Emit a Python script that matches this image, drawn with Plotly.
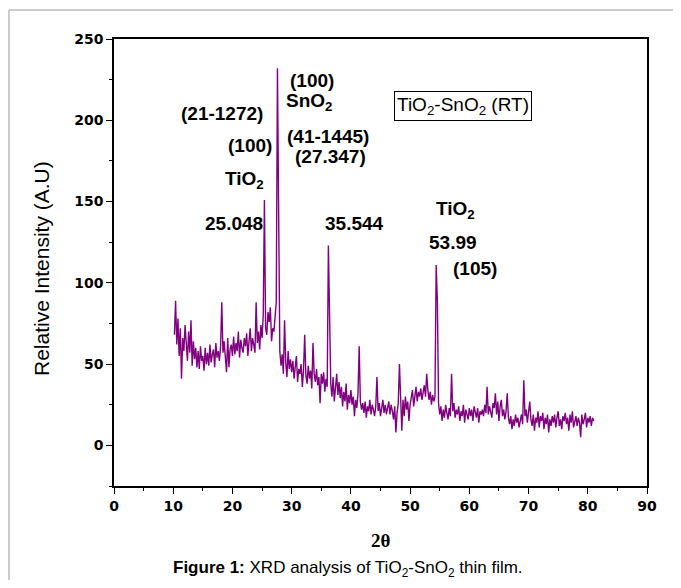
import numpy as np
import plotly.graph_objects as go

# 2-theta grid (degrees), step 0.2 from 10.2 to 81.0
two_theta_start = 10.2
two_theta_step = 0.2

# Relative intensity, 10 values per 2-degree band
intensity = [
    68, 89, 62, 78, 55, 72, 41, 66, 58, 74,      # 10.2-12.0
    63, 52, 70, 57, 77, 49, 64, 53, 60, 48,      # 12.2-14.0
    58, 47, 61, 52, 55, 46, 60, 50, 57, 49,      # 14.2-16.0
    62, 51, 56, 59, 48, 63, 54, 58, 52, 61,      # 16.2-18.0
    88, 57, 64, 52, 45, 66, 48, 59, 62, 55,      # 18.2-20.0
    67, 56, 63, 58, 70, 54, 65, 60, 57, 66,      # 20.2-22.0
    61, 69, 55, 64, 72, 58, 66, 62, 57, 88,      # 22.2-24.0
    63, 70, 59, 74, 66, 80, 151, 72, 68, 82,     # 24.2-26.0
    76, 85, 64, 72, 70, 79, 88, 232, 165, 58,    # 26.2-28.0
    49, 56, 44, 77, 51, 42, 58, 47, 53, 45,      # 28.2-30.0
    52, 41, 48, 55, 39, 47, 44, 50, 36, 46,      # 30.2-32.0
    68, 43, 38, 49, 41, 46, 35, 63, 44, 39,      # 32.2-34.0
    47, 37, 42, 26, 44, 38, 45, 33, 41, 36,      # 34.2-36.0
    123, 66, 38, 30, 42, 27, 35, 44, 31, 39,     # 36.2-38.0
    29, 36, 24, 33, 27, 38, 22, 31, 26, 34,      # 38.2-40.0
    25, 30, 18, 28, 23, 32, 61, 27, 22, 26,      # 40.2-42.0
    20, 27, 17, 24, 21, 28, 19, 25, 22, 18,      # 42.2-44.0
    24, 42, 21, 26, 18, 23, 28, 20, 25, 19,      # 44.2-46.0
    23, 27, 19, 25, 21, 16, 24, 8, 20, 26,       # 46.2-48.0
    50, 24, 9, 28, 18, 30, 22, 27, 15, 25,       # 48.2-50.0
    29, 34, 24, 31, 36, 27, 33, 30, 35, 28,      # 50.2-52.0
    32, 37, 30, 44, 34, 28, 33, 25, 31, 27,      # 52.2-54.0
    30, 111, 89, 26, 19, 24, 15, 22, 17, 25,     # 54.2-56.0
    20, 16, 23, 18, 44, 21, 26, 17, 22, 19,      # 56.2-58.0
    24, 15, 21, 18, 25, 14, 22, 19, 16, 23,      # 58.2-60.0
    18, 22, 15, 24, 20, 17, 23, 14, 21, 19,      # 60.2-62.0
    22, 18, 25, 20, 36, 19, 24, 21, 17, 26,      # 62.2-64.0
    23, 32, 19, 27, 15, 24, 28, 18, 22, 16,      # 64.2-66.0
    21, 32, 17, 13, 18, 10, 16, 12, 19, 14,      # 66.2-68.0
    17, 11, 15, 19, 13, 40, 18, 22, 14, 20,      # 68.2-70.0
    27, 16, 12, 19, 9, 17, 14, 21, 11, 18,       # 70.2-72.0
    15, 20, 10, 17, 13, 19, 8, 16, 12, 18,       # 72.2-74.0
    14, 19, 11, 17, 21, 12, 16, 10, 18, 15,      # 74.2-76.0
    20, 13, 17, 9, 19, 14, 21, 11, 16, 18,       # 76.2-78.0
    12, 17, 14, 5, 19, 13, 16, 20, 11, 17,       # 78.2-80.0
    14, 18, 12, 17, 15,                          # 80.2-81.0
]

two_theta = two_theta_start + two_theta_step * np.arange(len(intensity))

x_ticks = [0, 10, 20, 30, 40, 50, 60, 70, 80, 90]
y_ticks = [0, 50, 100, 150, 200, 250]

# peak labels: (text, 2theta, intensity)
peak_labels = [
    ("(100)", 33.5, 224.5),
    ("SnO<sub>2</sub>", 33.0, 211.0),
    ("(21-1272)", 18.2, 204.2),
    ("(41-1445)", 36.1, 190.0),
    ("(100)", 23.0, 184.5),
    ("(27.347)", 36.5, 177.7),
    ("TiO<sub>2</sub>", 22.0, 163.0),
    ("25.048", 20.3, 136.5),
    ("35.544", 40.6, 136.5),
    ("TiO<sub>2</sub>", 57.6, 144.5),
    ("53.99", 57.2, 124.8),
    ("(105)", 60.9, 108.9),
]

fig = go.Figure()
fig.add_trace(go.Scatter(
    x=two_theta, y=intensity, mode="lines",
    line=dict(color="#800080", width=1.4),
    showlegend=False,
))

axis_common = dict(
    showline=True, linecolor="black", linewidth=1.5, mirror=True,
    ticks="outside", ticklen=6, tickwidth=1.3, tickcolor="black",
    showgrid=False, zeroline=False,
    tickfont=dict(family="DejaVu Sans", size=14, color="black", weight="bold"),
)

fig.update_xaxes(range=[0, 90], tickvals=x_ticks,
                 minor=dict(ticks="outside", ticklen=3.5, dtick=5, tick0=0, tickcolor="black"),
                 **axis_common)
fig.update_yaxes(range=[-25, 250], tickvals=y_ticks,
                 minor=dict(ticks="outside", ticklen=3.5, dtick=25, tick0=0, tickcolor="black"),
                 **axis_common)

annotations = []
for text, xv, yv in peak_labels:
    annotations.append(dict(
        x=xv, y=yv, xref="x", yref="y", text=text, showarrow=False,
        xanchor="center", yanchor="middle",
        font=dict(family="Liberation Sans", size=19, color="black", weight="bold"),
    ))

# sample legend box
annotations.append(dict(
    x=59.0, y=209.0, xref="x", yref="y", showarrow=False,
    xanchor="center", yanchor="middle",
    text="TiO<sub>2</sub>-SnO<sub>2</sub> (RT)",
    font=dict(family="Liberation Sans", size=19, color="black"),
    bordercolor="black", borderwidth=1, borderpad=2, bgcolor="white",
))
# axis titles
annotations.append(dict(
    x=-0.135, y=0.4855, xref="paper", yref="paper", showarrow=False,
    xanchor="center", yanchor="middle",
    text="Relative Intensity (A.U)", textangle=-90,
    font=dict(family="Liberation Sans", size=21, color="black"),
))
annotations.append(dict(
    x=0.501, y=-0.121, xref="paper", yref="paper", showarrow=False,
    xanchor="center", yanchor="middle",
    text="2θ",
    font=dict(family="Liberation Serif", size=19, color="black", weight="bold"),
))
# caption
annotations.append(dict(
    x=0.439, y=-0.1857, xref="paper", yref="paper", showarrow=False,
    xanchor="center", yanchor="middle",
    text="<b>Figure 1:</b> XRD analysis of TiO<sub>2</sub>-SnO<sub>2</sub> thin film.",
    font=dict(family="Liberation Sans", size=17, color="black"),
))

shapes = [
    dict(type="line", xref="paper", yref="paper",
         x0=-0.197, x1=-0.197, y0=1.0649, y1=-0.25,
         line=dict(color="#bbbbbb", width=1.5)),
    dict(type="line", xref="paper", yref="paper",
         x0=-0.197, x1=1.1, y0=1.0649, y1=1.0649,
         line=dict(color="#bbbbbb", width=1.5)),
]

# the page body adds an 8 px margin, so the figure is sized/offset to compensate
fig.update_layout(
    width=665, height=572,
    margin=dict(l=106, r=26, t=31, b=94),
    paper_bgcolor="white", plot_bgcolor="white",
    annotations=annotations, shapes=shapes,
)

fig.write_html("out.html")
